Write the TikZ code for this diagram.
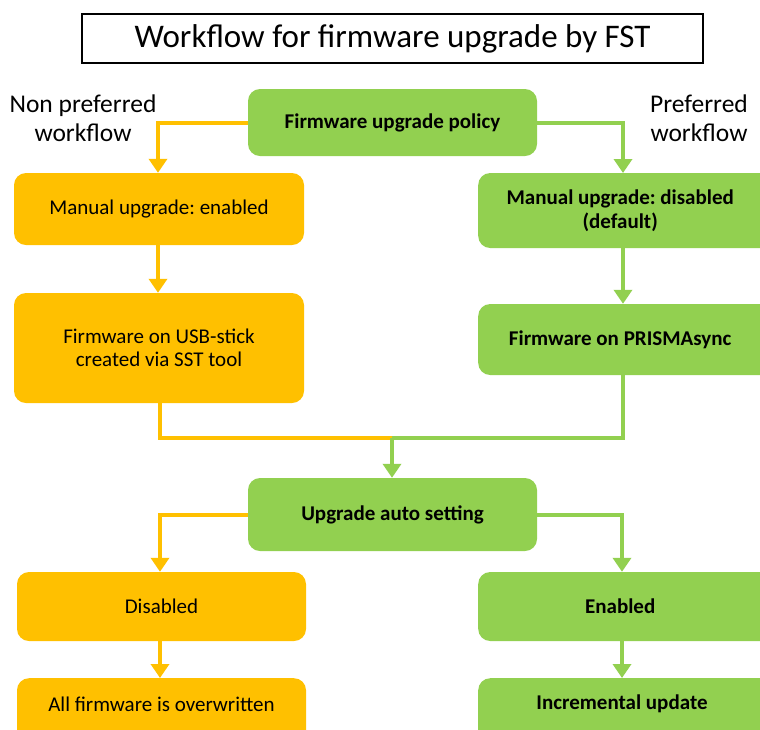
\documentclass[tikz,border=0pt]{standalone}
\usepackage{fontspec}
\setmainfont{Carlito}
\frenchspacing
\usetikzlibrary{arrows.meta}
\definecolor{org}{HTML}{FFC000}
\definecolor{grn}{HTML}{92D050}
\tikzset{
  x=1pt,y=-1pt,
  box/.style={rounded corners=12pt, inner sep=0pt, align=center, font=\fontsize{21}{23.5}\selectfont},
  obox/.style={box, fill=org},
  gbox/.style={box, fill=grn, font=\fontsize{21}{23.5}\selectfont\bfseries},
  oline/.style={draw=org, line width=4pt, -{Triangle[length=14pt,width=18pt]}},
  gline/.style={draw=grn, line width=4pt, -{Triangle[length=14pt,width=18pt]}},
  lab/.style={align=center, font=\fontsize{25.5}{29}\selectfont},
}
\begin{document}
\begin{tikzpicture}
\useasboundingbox (0,0) rectangle (760,729);
% title
\node[draw=black, line width=2pt, minimum width=621pt, minimum height=49pt, inner sep=0pt, font=\fontsize{33}{36}\selectfont] (title) at (392.5,38.5) {Workflow for firmware upgrade by FST};
% boxes
\node[gbox, minimum width=289pt, minimum height=67pt] (policy) at (392.5,122.5) {Firmware upgrade policy};
\node[obox, minimum width=290pt, minimum height=72pt] (men) at (159,209) {Manual upgrade: enabled};
\node[gbox, minimum width=300pt, minimum height=75pt, anchor=west] (mdis) at (478,210.5) {\hspace*{-16pt}Manual upgrade: disabled\\\hspace*{-16pt}(default)};
\node[obox, minimum width=290pt, minimum height=110pt] (usb) at (159,348) {Firmware on USB-stick\\created via SST tool};
\node[gbox, minimum width=300pt, minimum height=71pt, anchor=west] (prisma) at (478,339.5) {\hspace*{-16pt}Firmware on PRISMAsync};
\node[gbox, minimum width=289pt, minimum height=73pt] (auto) at (392.5,514.5) {Upgrade auto setting};
\node[obox, minimum width=289pt, minimum height=69pt] (dis) at (161.5,606.5) {Disabled};
\node[gbox, minimum width=300pt, minimum height=69pt, anchor=west] (en) at (478,606.5) {\hspace*{-16pt}Enabled};
\node[obox, minimum width=289pt, minimum height=70pt, anchor=north] (allfw) at (161.5,678) {};
\node[font=\fontsize{21}{23.5}\selectfont] (allfwt) at (161.5,704) {All firmware is overwritten};
\node[gbox, minimum width=300pt, minimum height=70pt, anchor=north west] (inc) at (478,678) {};
\node[font=\fontsize{21}{23.5}\selectfont\bfseries] (inct) at (622,704) {Incremental update};
% labels
\node[lab] (np) at (83,118) {Non preferred\\workflow};
\node[lab] (pw) at (699,118) {Preferred\\workflow};
% coordinates
\coordinate (j1) at (160,438);
\coordinate (j2) at (392,438);
\coordinate (j3) at (623,438);
% connectors
\draw[oline] (policy.west) -| (men.north -| 158,0);
\draw[gline] (policy.east) -| (623,173);
\draw[oline] (men.south -| 158,0) -- (usb.north -| 158,0);
\draw[gline] (623,248) -- (prisma.north -| 623,0);
\draw[draw=org, line width=4pt] (usb.south -| j1) -- (j1) -- (j2);
\draw[draw=grn, line width=4pt] (prisma.south -| j3) -- (j3) -- (j2);
\draw[gline] (j2) -- (auto.north -| j2);
\draw[oline] (auto.west) -| (dis.north -| j1);
\draw[gline] (auto.east) -| (en.north -| 622,0);
\draw[oline] (dis.south -| j1) -- (allfw.north -| j1);
\draw[gline] (en.south -| 622,0) -- (inc.north -| 622,0);
\end{tikzpicture}
\end{document}
